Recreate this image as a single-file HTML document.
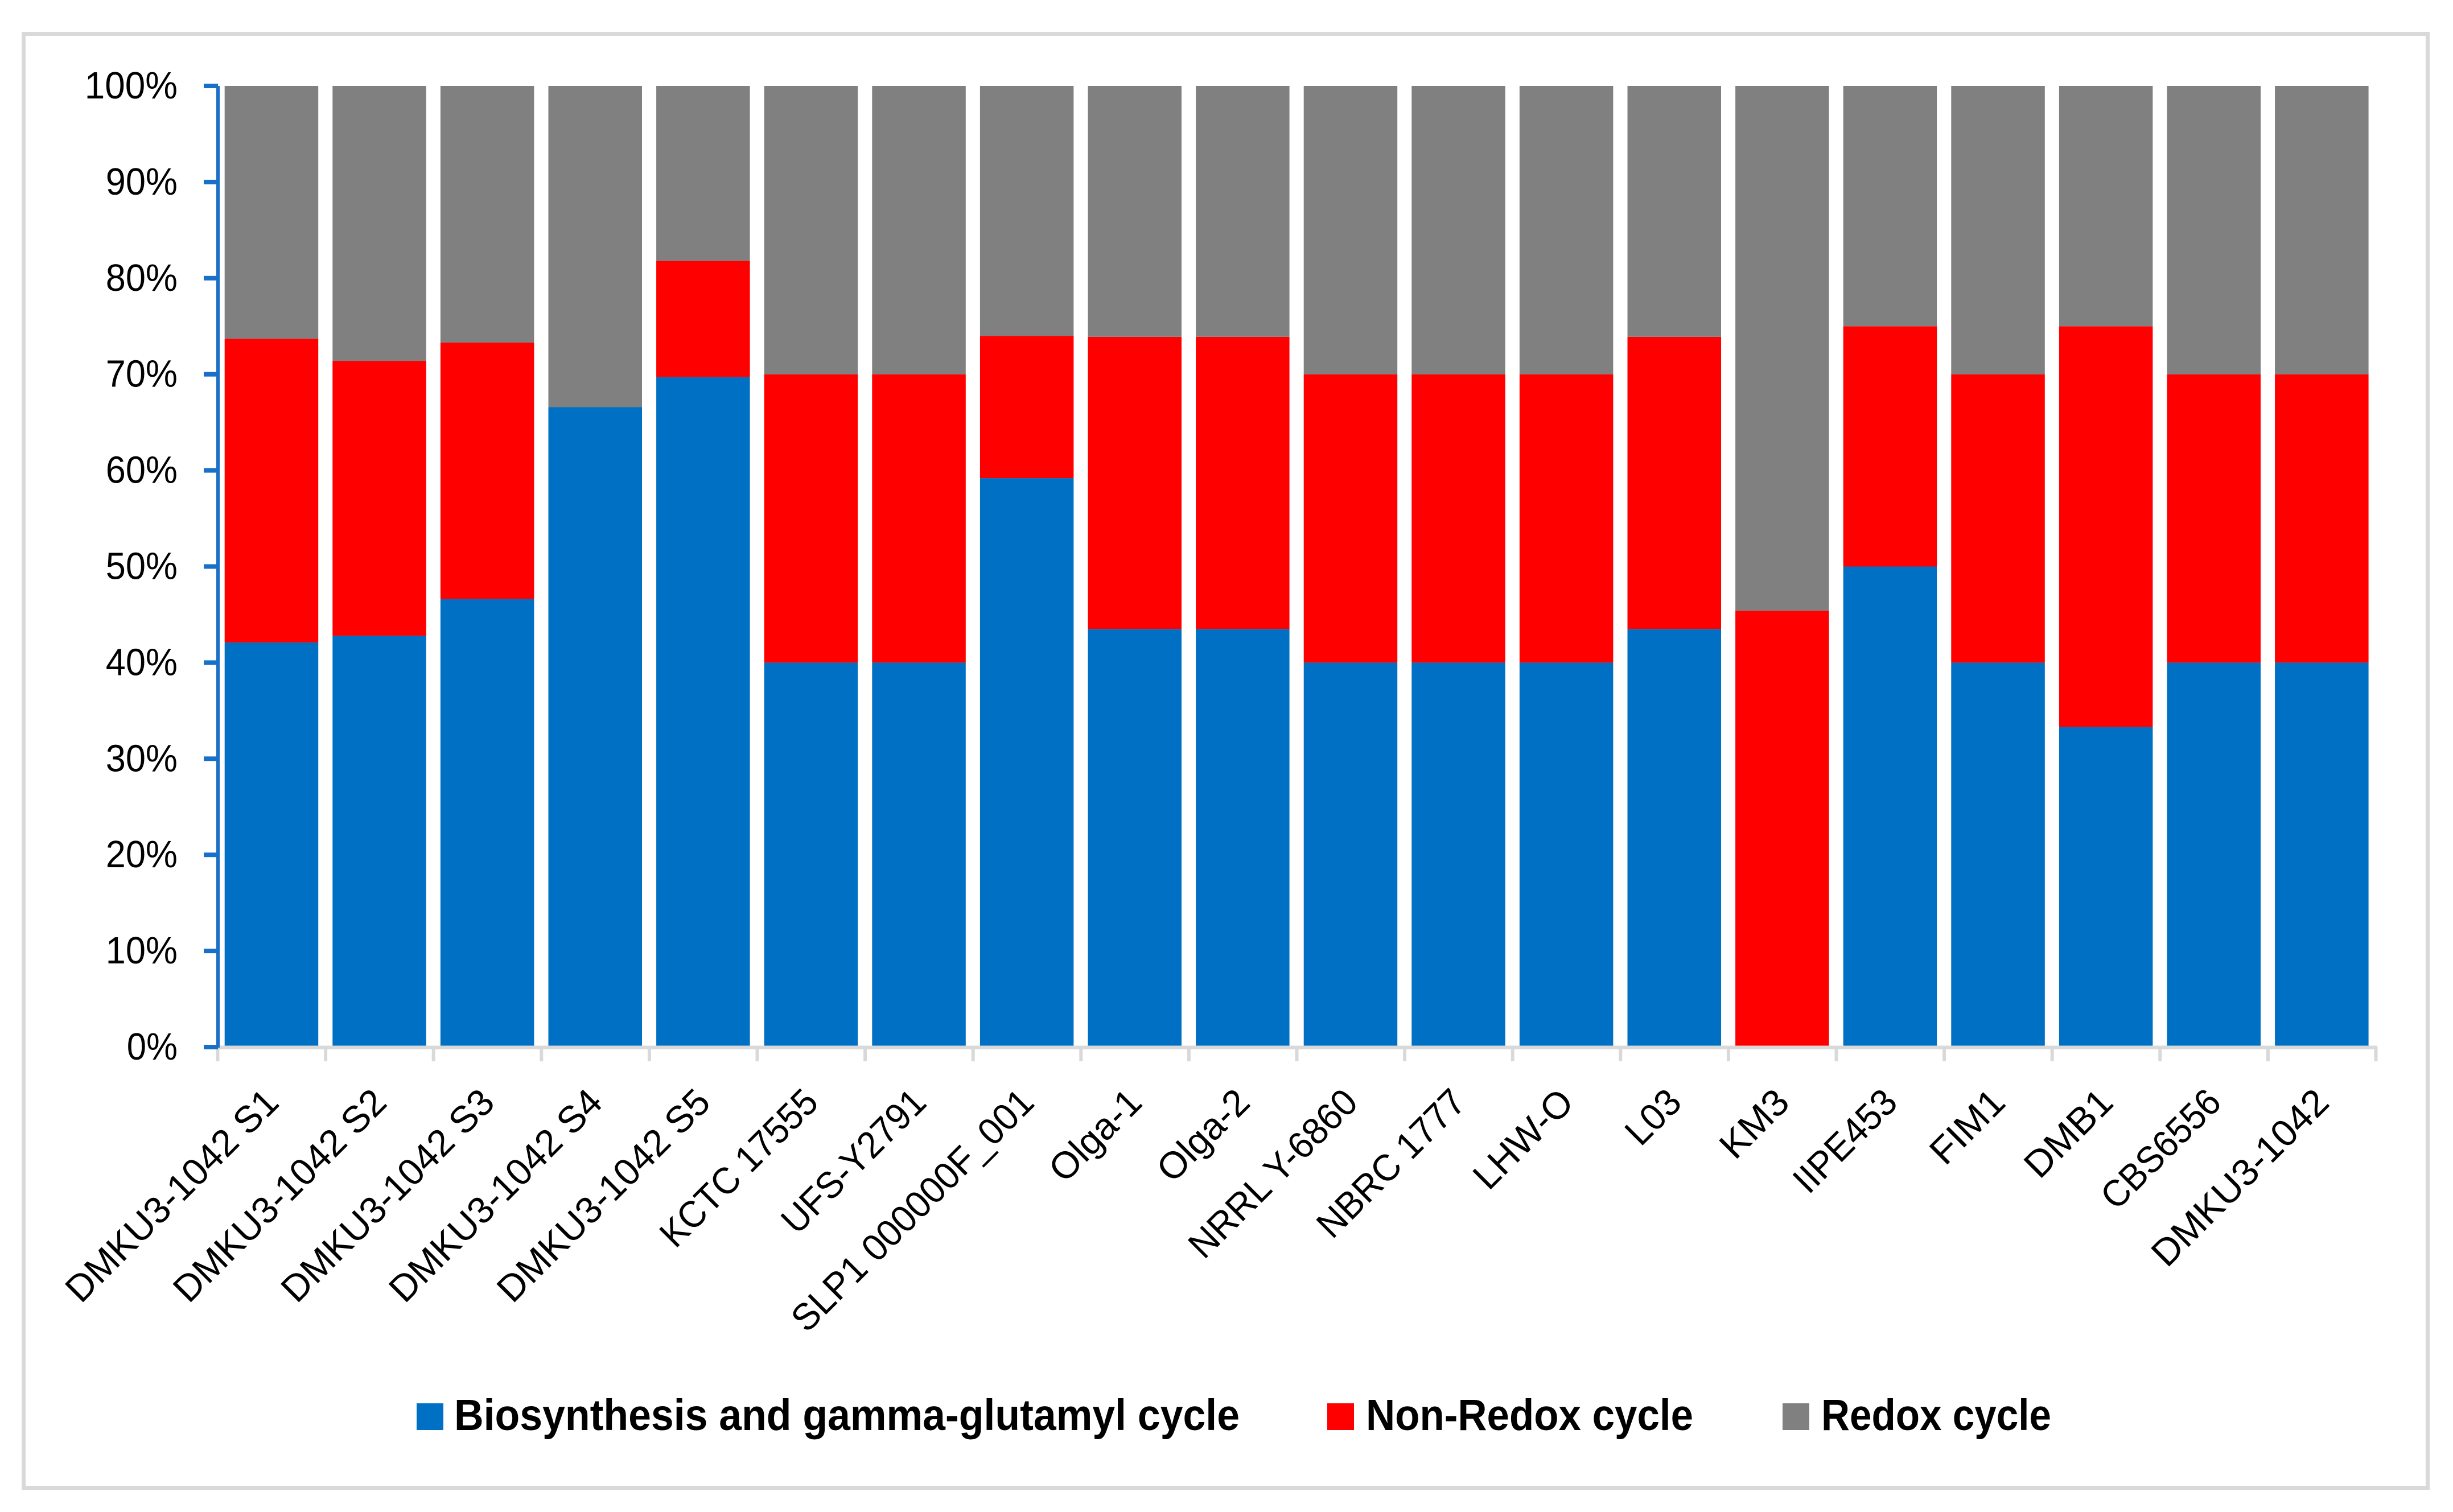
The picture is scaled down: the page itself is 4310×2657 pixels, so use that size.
<!DOCTYPE html>
<html lang="en">
<head>
<meta charset="utf-8">
<title>Stacked percent bar chart of glutathione cycle genes by strain</title>
<style>
html,body{margin:0;padding:0;background:#fff;}
svg{display:block;}
text{font-family:"Liberation Sans",Arial,sans-serif;fill:#000;}
</style>
</head>
<body>
<svg id="chart" xmlns="http://www.w3.org/2000/svg" width="4310" height="2657" viewBox="0 0 4310 2657">
  <rect x="0" y="0" width="4310" height="2657" fill="#ffffff"/>
  <rect x="41.5" y="59.5" width="4224" height="2555" fill="none" stroke="#d9d9d9" stroke-width="7"/>
  <g id="bars"></g>
  <g id="x-axis"></g>
  <g id="y-axis"></g>
  <g>
    <g>
      <rect x="732" y="2466" width="47" height="47" fill="#0070c4"/>
      <text x="798" y="2513" font-size="77" font-weight="700" textLength="1380" lengthAdjust="spacingAndGlyphs">Biosynthesis and gamma-glutamyl cycle</text>
    </g>
    <g>
      <rect x="2332" y="2466" width="47" height="47" fill="#ff0000"/>
      <text x="2400" y="2513" font-size="77" font-weight="700" textLength="575" lengthAdjust="spacingAndGlyphs">Non-Redox cycle</text>
    </g>
    <g>
      <rect x="3132" y="2466" width="47" height="47" fill="#808080"/>
      <text x="3200" y="2513" font-size="77" font-weight="700" textLength="404" lengthAdjust="spacingAndGlyphs">Redox cycle</text>
    </g>
  </g>
</svg>
<script>
const categories = ["DMKU3-1042 S1","DMKU3-1042 S2","DMKU3-1042 S3","DMKU3-1042 S4","DMKU3-1042 S5","KCTC 17555","UFS-Y2791","SLP1 000000F_001","Olga-1","Olga-2","NRRL Y-6860","NBRC 1777","LHW-O","L03","KM3","IIPE453","FIM1","DMB1","CBS6556","DMKU3-1042"];
const biosynthesis = [42.1,42.8,46.6,66.6,69.7,40,40,59.2,43.5,43.5,40,40,40,43.5,0,50,40,33.3,40,40];
const nonRedox = [31.6,28.6,26.7,0,12.1,30,30,14.8,30.4,30.4,30,30,30,30.4,45.4,25,30,41.7,30,30];
const redox = [26.3,28.6,26.7,33.4,18.2,30,30,26,26.1,26.1,30,30,30,26.1,54.6,25,30,25,30,30];
const yTicks = [0,10,20,30,40,50,60,70,80,90,100];

const SVG_NS = "http://www.w3.org/2000/svg";
const PLOT_LEFT = 382.5, PITCH = 189.6, BAR_OFFSET = 12.2, BAR_WIDTH = 164.5;
const Y_ZERO = 1840, Y_UNIT = 16.89;
const AXIS_GREY = "#d9d9d9", AXIS_BLUE = "#1870c8";
const xScale = function (i) { return PLOT_LEFT + PITCH * i; };
const yScale = function (v) { return Y_ZERO - v * Y_UNIT; };

/* Advance widths used to fit the label lengths (em units). */
const ADV = {A:.579,B:.544,C:.533,D:.615,E:.488,F:.459,G:.631,H:.623,I:.252,J:.319,K:.52,L:.42,M:.855,N:.646,O:.662,P:.517,Q:.673,R:.543,S:.459,T:.487,U:.642,V:.567,W:.89,X:.519,Y:.487,Z:.468,a:.479,b:.525,c:.423,d:.525,e:.498,f:.305,g:.471,h:.525,i:.229,j:.239,k:.455,l:.229,m:.799,n:.525,o:.527,p:.525,q:.525,r:.349,s:.391,t:.335,u:.525,v:.452,w:.715,x:.433,y:.453,z:.395,"-":.306," ":.226,"_":.498,"%":.715};
function labelWidth(s, em) {
  let w = 0;
  for (const c of s) { w += (c >= "0" && c <= "9") ? .507 : (ADV[c] || .5); }
  return w * em;
}
function make(tag, attrs, parent) {
  const el = document.createElementNS(SVG_NS, tag);
  for (const k in attrs) { el.setAttribute(k, attrs[k]); }
  parent.appendChild(el);
  return el;
}

const barsG = document.getElementById("bars");
const seriesList = [
  {key: "biosynthesis", values: biosynthesis, color: "#0070c4"},
  {key: "non-redox", values: nonRedox, color: "#ff0000"},
  {key: "redox", values: redox, color: "#808080"}
];
categories.forEach(function (cat, i) {
  let cumulative = 0;
  seriesList.forEach(function (s) {
    const v = s.values[i];
    const top = yScale(cumulative + v);
    const bottom = yScale(cumulative);
    cumulative += v;
    if (v <= 0) { return; }
    const r = make("rect", {x: xScale(i) + BAR_OFFSET, y: top, width: BAR_WIDTH, height: bottom - top, fill: s.color}, barsG);
    
    
    r.setAttribute('data-series', s.key);
  });
});

const xG = document.getElementById("x-axis");
const xLine = make("rect", {x: xScale(0) - 2.5, y: 1837.5, width: xScale(categories.length) - xScale(0) + 5, height: 6.5, fill: AXIS_GREY}, xG);


for (let i = 0; i <= categories.length; i++) {
  const t = make("rect", {x: xScale(i) - 3, y: 1840, width: 6, height: 25, fill: AXIS_GREY}, xG);
  
  
}
categories.forEach(function (cat, i) {
  const ax = xScale(i) + PITCH / 2 + 16;
  const ay = 1941;
  const t = make("text", {x: ax, y: ay, "font-size": 66, "text-anchor": "end", transform: "rotate(-45 " + ax + " " + ay + ")", textLength: labelWidth(cat, 74.5), lengthAdjust: "spacingAndGlyphs"}, xG);
  t.textContent = cat;
  
  
});

const yG = document.getElementById("y-axis");
const yLine = make("rect", {x: 380, y: yScale(100), width: 6, height: yScale(0) - yScale(100) + 1, fill: AXIS_BLUE}, yG);


yTicks.forEach(function (v) {
  const tk = make("rect", {x: 358, y: yScale(v) - 4, width: 25, height: 8, fill: AXIS_BLUE}, yG);
  
  
  const label = v + "%";
  const t = make("text", {x: 312, y: yScale(v) + 22, "font-size": 67, "text-anchor": "end", textLength: labelWidth(label, 73), lengthAdjust: "spacingAndGlyphs"}, yG);
  t.textContent = label;
  
  
});
</script>
</body>
</html>
